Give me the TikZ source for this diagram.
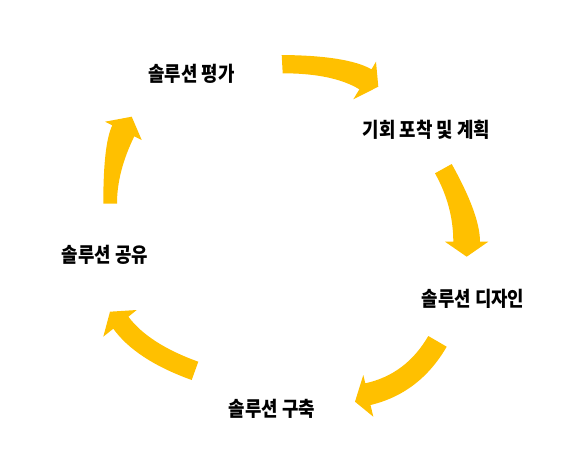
\documentclass[tikz,border=0pt]{standalone}
\usepackage{fontspec}
\newfontfamily\krfont{Noto Sans CJK KR}[BoldFont={* Black},FakeStretch=0.87]
\usetikzlibrary{calc}
\definecolor{gold}{HTML}{FFC000}
\tikzset{
  arrowfill/.style={fill=gold,draw=none},
  lab/.style={anchor=base,inner sep=0pt,text=black,font=\krfont\bfseries\fontsize{20.5}{24}\selectfont}
}
\begin{document}
\begin{tikzpicture}[x=1pt,y=-1pt]
\useasboundingbox (0,0) rectangle (584,453);
% Arrow A (top)
\coordinate (a1) at (281.7,55);
\coordinate (aq1) at (347,55.5);
\coordinate (a2) at (371.5,69.3);
\coordinate (ak1) at (376,61.7);
\coordinate (at) at (378.3,86.7);
\coordinate (ak2) at (353.3,99.3);
\coordinate (a3) at (359.4,89.3);
\coordinate (aq2) at (333,73.3);
\coordinate (a4) at (282.7,73.3);
\fill[arrowfill] (a1) .. controls ($(a1)!0.6667!(aq1)$) and ($(a2)!0.6667!(aq1)$) .. (a2)
  -- (ak1) -- (at) -- (ak2) -- (a3)
  .. controls ($(a3)!0.6667!(aq2)$) and ($(a4)!0.6667!(aq2)$) .. (a4) -- cycle;
% Arrow B (right)
\coordinate (b1) at (435,173.3);
\coordinate (bq1) at (453.3,206);
\coordinate (b2) at (453.3,241.7);
\coordinate (bk1) at (445,241.7);
\coordinate (bt) at (466.7,256.7);
\coordinate (bk2) at (488.3,241.7);
\coordinate (b3) at (480,241.7);
\coordinate (bq2) at (480,214.7);
\coordinate (b4) at (451.7,164);
\fill[arrowfill] (b1) .. controls ($(b1)!0.6667!(bq1)$) and ($(b2)!0.6667!(bq1)$) .. (b2)
  -- (bk1) -- (bt) -- (bk2) -- (b3)
  .. controls ($(b3)!0.6667!(bq2)$) and ($(b4)!0.6667!(bq2)$) .. (b4) -- cycle;
% Arrow C (bottom right)
\coordinate (c1) at (428.3,336);
\coordinate (cq1) at (406,374.4);
\coordinate (c2) at (365.3,383.3);
\coordinate (ck1) at (363.3,375);
\coordinate (ct) at (355,401.7);
\coordinate (ck2) at (373.3,416.7);
\coordinate (c3) at (370.5,405);
\coordinate (cq2) at (419.6,393.3);
\coordinate (c4) at (446.7,346.7);
\fill[arrowfill] (c1) .. controls ($(c1)!0.6667!(cq1)$) and ($(c2)!0.6667!(cq1)$) .. (c2)
  -- (ck1) -- (ct) -- (ck2) -- (c3)
  .. controls ($(c3)!0.6667!(cq2)$) and ($(c4)!0.6667!(cq2)$) .. (c4) -- cycle;
% Arrow D (bottom left)
\coordinate (d1) at (198.3,361.7);
\coordinate (dq1) at (148.8,343.9);
\coordinate (d2) at (128.4,316.7);
\coordinate (dk1) at (136.7,310);
\coordinate (dt) at (110,311.7);
\coordinate (dk2) at (103.3,336.7);
\coordinate (d3) at (113.3,328.7);
\coordinate (dq2) at (135.7,359.8);
\coordinate (d4) at (191.7,380);
\fill[arrowfill] (d1) .. controls ($(d1)!0.6667!(dq1)$) and ($(d2)!0.6667!(dq1)$) .. (d2)
  -- (dk1) -- (dt) -- (dk2) -- (d3)
  .. controls ($(d3)!0.6667!(dq2)$) and ($(d4)!0.6667!(dq2)$) .. (d4) -- cycle;
% Arrow E (left)
\coordinate (e1) at (103.3,203.5);
\coordinate (eq1) at (103.3,143.5);
\coordinate (e2) at (112.3,125.4);
\coordinate (ek1) at (105,121.7);
\coordinate (et) at (131.7,116.7);
\coordinate (ek2) at (141.7,140);
\coordinate (e3) at (134.3,136.3);
\coordinate (eq2) at (117,171.6);
\coordinate (e4) at (117,203.5);
\fill[arrowfill] (e1) .. controls ($(e1)!0.6667!(eq1)$) and ($(e2)!0.6667!(eq1)$) .. (e2)
  -- (ek1) -- (et) -- (ek2) -- (e3)
  .. controls ($(e3)!0.6667!(eq2)$) and ($(e4)!0.6667!(eq2)$) .. (e4) -- cycle;
% Labels
\node[lab] (eval) at (191.5,81) {솔루션 평가};
\node[lab] (plan) at (426.5,137) {기회 포착 및 계획};
\node[lab] (design) at (473,306) {솔루션 디자인};
\node[lab] (build) at (272,416) {솔루션 구축};
\node[lab] (share) at (105,262) {솔루션 공유};
\end{tikzpicture}
\end{document}
